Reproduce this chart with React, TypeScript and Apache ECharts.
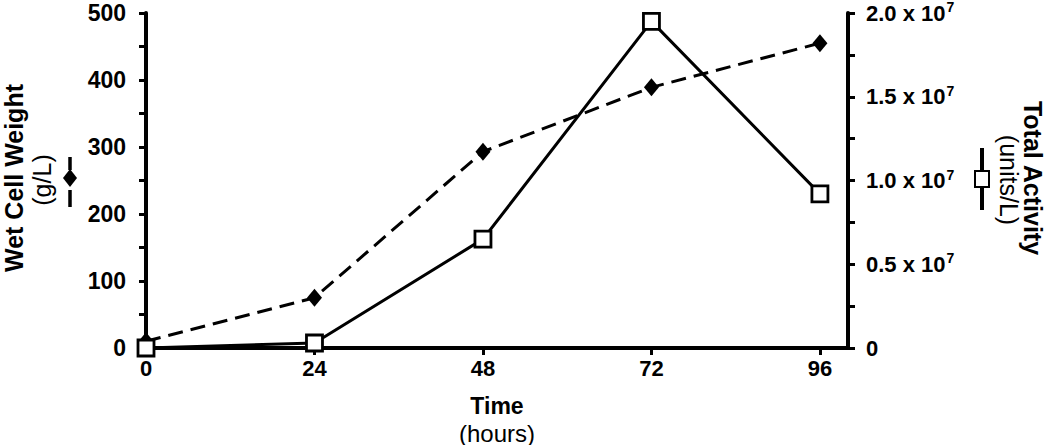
import React, { useEffect, useRef } from "react";
import * as echarts from "echarts";

const hours = [0, 24, 48, 72, 96];
const wetCellWeight = [10, 75, 293, 389, 455];
const totalActivity = [0, 3e5, 6.5e6, 1.95e7, 9.2e6];
const xTickValues = [0, 24, 48, 72, 96];

const FONT = "'Liberation Sans', Arial, sans-serif";

export default function App() {
  const ref = useRef<HTMLDivElement>(null);
  useEffect(() => {
    if (!ref.current) return;
    const chart = echarts.init(ref.current, null, { renderer: "svg" });
    const mkLine = () => ({ show: true, lineStyle: { color: "#000", width: 4 } });
    const mkTick = () => ({ color: "#000", width: 3 });
    const option: any = {
      animation: false,
      backgroundColor: "#fff",
      grid: { left: 146, right: 202, top: 10, bottom: 97 },
      xAxis: {
        type: "value",
        min: 0,
        max: 100,
        interval: 24,
        axisLine: mkLine(),
        axisTick: { show: true, customValues: xTickValues, length: 7, lineStyle: mkTick() },
        axisLabel: {
          customValues: xTickValues,
          color: "#000",
          fontWeight: "bold",
          fontSize: 22,
          fontFamily: FONT,
          margin: 9,
        },
        splitLine: { show: false },
      },
      yAxis: [
        {
          type: "value",
          min: 0,
          max: 500,
          interval: 100,
          position: "left",
          axisLine: mkLine(),
          axisTick: { show: true, length: 7, lineStyle: mkTick() },
          minorTick: { show: true, splitNumber: 2, length: 7, lineStyle: mkTick() },
          axisLabel: { color: "#000", fontWeight: "bold", fontSize: 23, fontFamily: FONT, margin: 20 },
          splitLine: { show: false },
          minorSplitLine: { show: false },
        },
        {
          type: "value",
          min: 0,
          max: 2e7,
          interval: 5e6,
          position: "right",
          axisLine: mkLine(),
          axisTick: { show: true, length: 7, lineStyle: mkTick() },
          minorTick: { show: true, splitNumber: 2, length: 7, lineStyle: mkTick() },
          axisLabel: {
            color: "#000",
            fontWeight: "bold",
            fontSize: 22,
            fontFamily: FONT,
            margin: 18,
            formatter: (v: number) =>
              v === 0 ? "{b|0}" : `{b|${(v / 1e7).toFixed(1)} x 10}{s|7}`,
            rich: {
              b: { fontSize: 22, fontWeight: "bold", fontFamily: FONT, color: "#000" },
              s: {
                fontSize: 14,
                fontWeight: "bold",
                fontFamily: FONT,
                color: "#000",
                verticalAlign: "top",
                padding: [0, 0, 12, 1],
              },
            },
          },
          splitLine: { show: false },
          minorSplitLine: { show: false },
        },
      ],
      series: [
        {
          name: "Wet Cell Weight",
          type: "line",
          yAxisIndex: 0,
          data: hours.map((h, i) => [h, wetCellWeight[i]]),
          symbol: "diamond",
          symbolSize: [15, 18],
          clip: false,
          itemStyle: { color: "#000" },
          lineStyle: { color: "#000", width: 3, type: [15, 8] },
          z: 3,
        },
        {
          name: "Total Activity",
          type: "line",
          yAxisIndex: 1,
          data: hours.map((h, i) => [h, totalActivity[i]]),
          symbol: "rect",
          symbolSize: [16, 16],
          clip: false,
          itemStyle: { color: "#fff", borderColor: "#000", borderWidth: 2.8 },
          lineStyle: { color: "#000", width: 3 },
          z: 4,
        },
      ],
      graphic: [
        {
          type: "text",
          x: 14,
          y: 178,
          rotation: Math.PI / 2,
          style: {
            text: "Wet Cell Weight",
            fontSize: 25,
            fontWeight: "bold",
            fontFamily: FONT,
            fill: "#000",
            textAlign: "center",
            textVerticalAlign: "middle",
          },
        },
        {
          type: "text",
          x: 42,
          y: 180,
          rotation: Math.PI / 2,
          style: {
            text: "(g/L)",
            fontSize: 25,
            fontFamily: FONT,
            fill: "#000",
            textAlign: "center",
            textVerticalAlign: "middle",
          },
        },
        { type: "line", shape: { x1: 70, y1: 157, x2: 70, y2: 170 }, style: { stroke: "#000", lineWidth: 3.5 } },
        { type: "line", shape: { x1: 70, y1: 190, x2: 70, y2: 207 }, style: { stroke: "#000", lineWidth: 3.5 } },
        {
          type: "polygon",
          shape: { points: [[70, 169], [77, 178], [70, 187], [63, 178]] },
          style: { fill: "#000" },
        },
        {
          type: "text",
          x: 1033,
          y: 178,
          rotation: -Math.PI / 2,
          style: {
            text: "Total Activity",
            fontSize: 25,
            fontWeight: "bold",
            fontFamily: FONT,
            fill: "#000",
            textAlign: "center",
            textVerticalAlign: "middle",
          },
        },
        {
          type: "text",
          x: 1009,
          y: 180,
          rotation: -Math.PI / 2,
          style: {
            text: "(units/L)",
            fontSize: 25,
            fontFamily: FONT,
            fill: "#000",
            textAlign: "center",
            textVerticalAlign: "middle",
          },
        },
        { type: "line", shape: { x1: 982, y1: 148, x2: 982, y2: 210 }, style: { stroke: "#000", lineWidth: 4 } },
        {
          type: "rect",
          shape: { x: 975, y: 171, width: 14, height: 16 },
          style: { fill: "#fff", stroke: "#000", lineWidth: 2 },
        },
        {
          type: "text",
          x: 497,
          y: 406,
          style: {
            text: "Time",
            fontSize: 23,
            fontWeight: "bold",
            fontFamily: FONT,
            fill: "#000",
            textAlign: "center",
            textVerticalAlign: "middle",
          },
        },
        {
          type: "text",
          x: 497,
          y: 433,
          style: {
            text: "(hours)",
            fontSize: 24,
            fontFamily: FONT,
            fill: "#000",
            textAlign: "center",
            textVerticalAlign: "middle",
          },
        },
      ],
    };
    chart.setOption(option);
    return () => chart.dispose();
  }, []);
  return (
    <div
      ref={ref}
      style={{ position: "fixed", left: 0, top: 0, width: 1050, height: 445, background: "#fff" }}
    />
  );
}
